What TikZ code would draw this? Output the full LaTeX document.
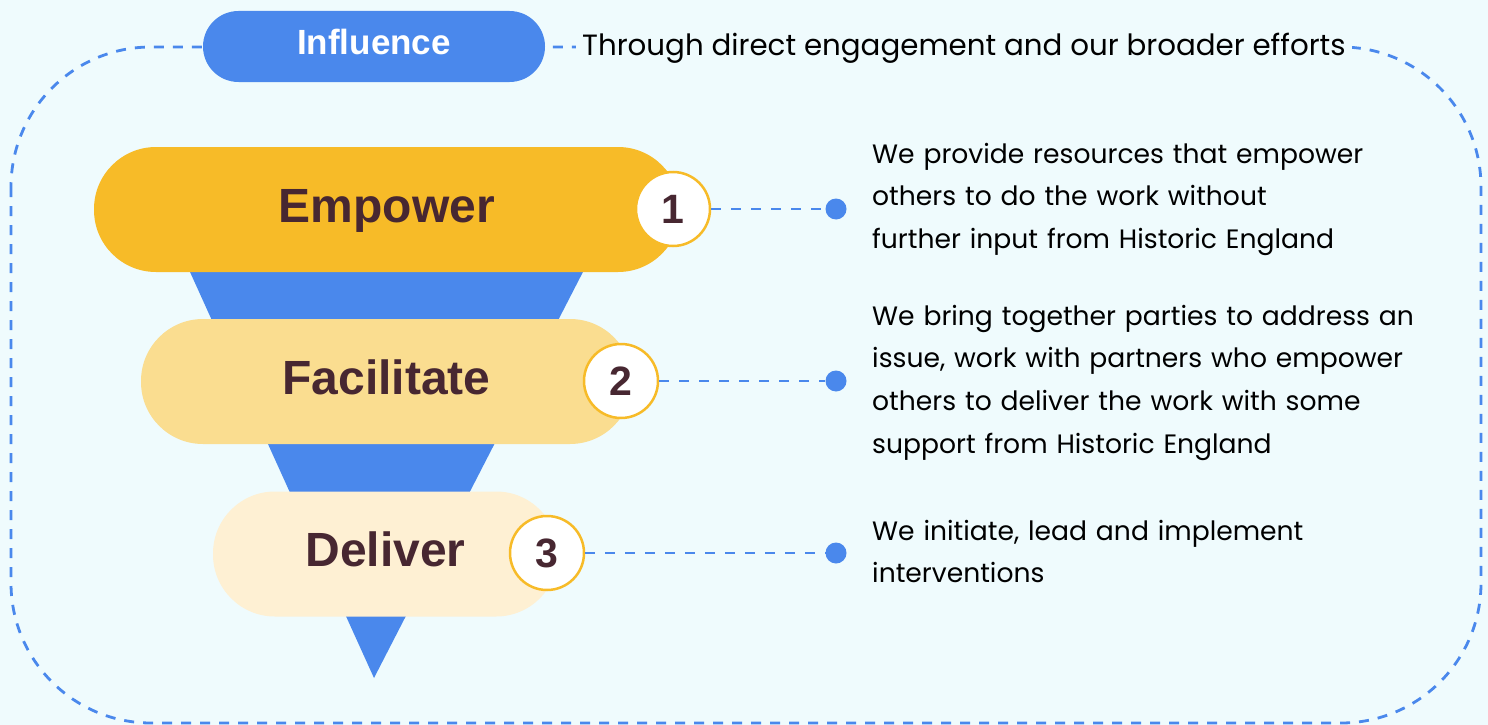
\documentclass[tikz,border=0pt]{standalone}
\usepackage{fontspec}
\setmainfont{Poppins}
\newfontfamily\labelfont{Liberation Sans}

\definecolor{bgcyan}{HTML}{EFFBFD}
\definecolor{funnelblue}{HTML}{4A88EC}
\definecolor{gold}{HTML}{F7BB28}
\definecolor{sand}{HTML}{FADD90}
\definecolor{cream}{HTML}{FEF0D3}
\definecolor{maroon}{HTML}{472731}

\begin{document}
\begin{tikzpicture}[x=1pt,y=-1pt,
    frame/.style={draw=funnelblue, line width=2.8pt, dash pattern=on 10pt off 9pt},
    influencebox/.style={fill=funnelblue, rounded corners=35.5pt, minimum width=342pt,
        minimum height=71pt, inner sep=0pt, text=white,
        font=\labelfont\bfseries\fontsize{35}{35}\selectfont, text height=25pt, text depth=8pt},
    topnote/.style={anchor=base west, fill=bgcyan, inner xsep=6pt, inner ysep=4pt,
        font=\fontsize{29.3}{42.8}\selectfont, text=black},
    stage/.style={rounded corners=62pt, minimum height=125pt, inner sep=0pt, text=maroon,
        font=\labelfont\bfseries\fontsize{48}{48}\selectfont, text height=34pt, text depth=9pt},
    num/.style={circle, draw=gold, line width=2.5pt, fill=white, minimum size=74pt,
        inner sep=0pt, text=maroon, font=\labelfont\bfseries\fontsize{41}{41}\selectfont,
        text height=29.3pt, text depth=0pt},
    dot/.style={circle, fill=funnelblue, minimum size=21pt, inner sep=0pt},
    link/.style={draw=funnelblue, line width=2.8pt, dash pattern=on 10pt off 10pt},
    desc/.style={anchor=base west, inner sep=0pt, text width=570pt, align=left,
        font=\fontsize{26.6}{42.8}\selectfont, text=black}
]
    % Background and the dashed frame
    \useasboundingbox (0,0) rectangle (1488,725);
    \fill[bgcyan] (0,0) rectangle (1488,725);
    \draw[frame, rounded corners=140pt] (11,47) rectangle (1481,723);

    % Influence header on top of the frame
    \node[influencebox] (influence) at (374,46.5) {Influence};
    \node[topnote] (influencenote) at (576,56) {Through direct engagement and our broader efforts};

    % Funnel behind the stages
    \fill[funnelblue] (157.4,200) -- (620,200) -- (374,678) -- cycle;

    % Stages
    \node[stage, fill=gold, minimum width=586pt] (empower) at (387,209.5) {Empower};
    \node[stage, fill=sand, minimum width=491pt] (facilitate) at (386.5,381.5) {Facilitate};
    \node[stage, fill=cream, minimum width=345pt] (deliver) at (385.5,554) {Deliver};

    % Numbers and dots
    \node[num] (num1) at (673,209) {1};
    \node[num] (num2) at (621,381) {2};
    \node[num] (num3) at (547,553) {3};
    \node[dot] (dot1) at (836,209) {};
    \node[dot] (dot2) at (836,381) {};
    \node[dot] (dot3) at (836,553) {};
    \foreach \i in {1,2,3} {
        \draw[link] (num\i) -- (dot\i);
    }

    % Descriptions
    \node[desc] (desc1) at (872,163) {We provide resources that empower\\others to do the work without\\further input from Historic England};
    \node[desc] (desc2) at (872,325) {We bring together parties to address an\\issue, work with partners who empower\\others to deliver the work with some\\support from Historic England};
    \node[desc] (desc3) at (872,540) {We initiate, lead and implement\\interventions};
\end{tikzpicture}
\end{document}
